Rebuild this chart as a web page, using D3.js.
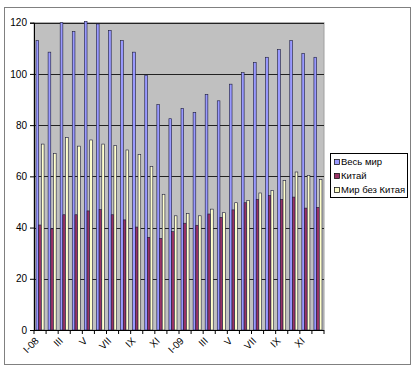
<!DOCTYPE html>
<html>
<head>
<meta charset="utf-8">
<script src="https://cdn.jsdelivr.net/npm/d3@7/dist/d3.min.js"></script>
<style>
  body { margin: 0; background: #fff; }
  svg text { font-family: Arial, "Liberation Sans", sans-serif; fill: #000; }
</style>
</head>
<body>
<div id="chart-area"></div>
<script>
const months = ["I-08", "II", "III", "IV", "V", "VI", "VII", "VIII", "IX", "X", "XI", "XII",
  "I-09", "II", "III", "IV", "V", "VI", "VII", "VIII", "IX", "X", "XI", "XII"];
const world = [113, 108.5, 120, 116.5, 120.5, 119.5, 117, 113, 108.5, 99.5, 88, 82.5,
  86.5, 85, 92, 89.5, 96, 100.5, 104.5, 106.5, 109.5, 113, 108, 106.5];
const china = [41, 39.5, 45, 45, 46.5, 47, 45, 43, 40.2, 36.2, 35.8, 38.4,
  41.7, 40.9, 45.3, 44, 46.9, 49.7, 51, 52.5, 51, 51.9, 47.6, 47.9];
const worldExChina = [72.6, 69, 75.1, 71.8, 74.2, 72.6, 72, 70.3, 68.5, 63.9, 53, 44.6,
  45.5, 44.6, 47.2, 45.8, 49.7, 50.6, 53.5, 54.5, 58.4, 61.7, 60.4, 58.8];
const seriesNames = ["Весь мир", "Китай", "Мир без Китая"];
const yTicks = [0, 20, 40, 60, 80, 100, 120];

const colors = ["#9999ff", "#993366", "#ffffcc"];
const chartSize = { width: 415, height: 376 };
const plot = { left: 34, top: 22.7, right: 324, bottom: 330 };

const series = [world, china, worldExChina];

const svg = d3.select("#chart-area")
  .append("svg")
  .attr("width", chartSize.width)
  .attr("height", chartSize.height);

// outer frame
svg.append("rect")
  .attr("x", 4.5).attr("y", 7.5)
  .attr("width", 406).attr("height", 357)
  .attr("fill", "#fff")
  .attr("stroke", "#808080");

const y = d3.scaleLinear()
  .domain([0, 120])
  .range([plot.bottom, plot.top]);

const x = d3.scaleBand()
  .domain(d3.range(months.length))
  .range([plot.left, plot.right])
  .paddingInner(1 / 3)
  .paddingOuter(1 / 6);

const xs = d3.scaleBand()
  .domain(d3.range(series.length))
  .range([0, x.bandwidth()]);

svg.append("rect")
  .attr("x", plot.left).attr("y", plot.top)
  .attr("width", plot.right - plot.left)
  .attr("height", plot.bottom - plot.top)
  .attr("fill", "#c0c0c0")
  .attr("stroke", "#a0a0a0");

svg.append("g")
  .selectAll("line")
  .data(yTicks.filter(d => d > 0))
  .join("line")
  .attr("x1", plot.left).attr("x2", plot.right)
  .attr("y1", d => Math.round(y(d)) + 0.5)
  .attr("y2", d => Math.round(y(d)) + 0.5)
  .attr("stroke", "#222");

const groups = svg.append("g")
  .selectAll("g")
  .data(months.map((m, i) => i))
  .join("g")
  .attr("transform", i => `translate(${x(i)},0)`);

groups.selectAll("rect")
  .data(i => series.map((s, k) => ({ k, v: s[i] })))
  .join("rect")
  .attr("x", d => xs(d.k))
  .attr("y", d => y(d.v))
  .attr("width", xs.bandwidth())
  .attr("height", d => y(0) - y(d.v))
  .attr("fill", d => colors[d.k])
  .attr("stroke", "#1a1a3a")
  .attr("stroke-width", 0.6);

// y axis
const yAxis = d3.axisLeft(y)
  .tickValues(yTicks)
  .tickSize(4)
  .tickPadding(3);

svg.append("g")
  .attr("class", "y axis")
  .attr("transform", `translate(${plot.left},0)`)
  .call(yAxis)
  .call(g => g.selectAll("text").style("font-size", "10px"));

// x axis line and ticks between categories
svg.append("line")
  .attr("x1", plot.left).attr("x2", plot.right)
  .attr("y1", plot.bottom + 0.5).attr("y2", plot.bottom + 0.5)
  .attr("stroke", "#000");

const step = x.step();
svg.append("g")
  .selectAll("line")
  .data(d3.range(months.length + 1))
  .join("line")
  .attr("x1", i => plot.left + i * step)
  .attr("x2", i => plot.left + i * step)
  .attr("y1", plot.bottom)
  .attr("y2", plot.bottom + 4)
  .attr("stroke", "#000");

svg.append("g")
  .selectAll("text")
  .data(months.map((m, i) => i).filter(i => i % 2 === 0))
  .join("text")
  .attr("transform", i => `translate(${x(i) + x.bandwidth() / 2 - 3},339) rotate(-45)`)
  .attr("text-anchor", "end")
  .attr("dy", "0.35em")
  .style("font-size", "10px")
  .text(i => months[i]);

// legend
const legend = svg.append("g")
  .attr("transform", "translate(330,153)");

legend.append("rect")
  .attr("x", 0.5).attr("y", 0.5)
  .attr("width", 77).attr("height", 44)
  .attr("fill", "#fff")
  .attr("stroke", "#000");

const items = legend.selectAll("g.item")
  .data(seriesNames)
  .join("g")
  .attr("class", "item")
  .attr("transform", (d, i) => `translate(0,${9 + i * 14})`);

items.append("rect")
  .attr("x", 4.5).attr("y", -2.5)
  .attr("width", 5).attr("height", 5)
  .attr("fill", (d, i) => colors[i])
  .attr("stroke", "#000")
  .attr("stroke-width", 0.7);

items.append("text")
  .attr("x", 11)
  .attr("dy", "0.35em")
  .style("font-size", "9.5px")
  .text(d => d);
</script>
</body>
</html>
